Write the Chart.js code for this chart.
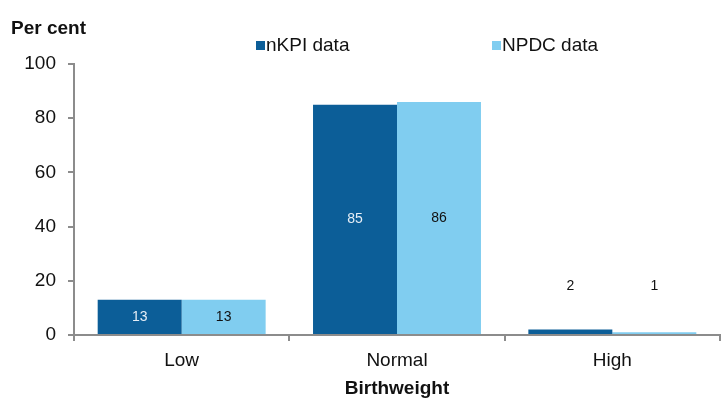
<!DOCTYPE html>
<html>
<head>
<meta charset="utf-8">
<script src="https://cdn.jsdelivr.net/npm/chart.js@4/dist/chart.umd.min.js"></script>
<style>
  html, body { margin: 0; padding: 0; background: #fff; }
  #wrap { width: 724px; height: 403px; position: relative; }
</style>
</head>
<body>
<div id="wrap"><canvas id="bw"></canvas></div>
<script>
// Birthweight distribution, per cent
const categories = ['Low', 'Normal', 'High'];
const nkpiValues = [13, 85, 2];
const npdcValues = [13, 86, 1];
const yTicks = [0, 20, 40, 60, 80, 100];

const COLORS = {
    nkpi: '#0C5E98',
    npdc: '#80CDF0',
    axis: '#8C8C8C',
    text: '#111',
};
const FONT = "'Liberation Sans', Arial, sans-serif";

// legend + "Per cent" label drawn on top of the canvas
const headerPlugin = {
    id: 'header',
    afterDraw(chart) {
        const ctx = chart.ctx;
        ctx.save();
        ctx.fillStyle = COLORS.text;
        ctx.font = 'bold 19px ' + FONT;
        ctx.textBaseline = 'alphabetic';
        ctx.textAlign = 'left';
        ctx.fillText('Per cent', 11, 34);

        const items = [
            { x: 256, ds: chart.data.datasets[0] },
            { x: 492, ds: chart.data.datasets[1] },
        ];
        ctx.font = '19px ' + FONT;
        ctx.textBaseline = 'middle';
        items.forEach(it => {
            ctx.fillStyle = it.ds.backgroundColor;
            ctx.fillRect(it.x, 41, 9, 9);
            ctx.fillStyle = COLORS.text;
            ctx.fillText(it.ds.label, it.x + 10, 46);
        });
        ctx.restore();
    }
};

// value labels: centred in tall bars, floated above the tiny ones
const valueLabels = {
    id: 'valueLabels',
    afterDatasetsDraw(chart) {
        const ctx = chart.ctx;
        const yScale = chart.scales.y;
        ctx.save();
        ctx.font = '14px ' + FONT;
        ctx.textAlign = 'center';
        ctx.textBaseline = 'middle';
        chart.data.datasets.forEach((ds, di) => {
            const meta = chart.getDatasetMeta(di);
            meta.data.forEach((bar, i) => {
                const v = ds.data[i];
                let y, color;
                if (v < 5) {
                    y = yScale.getPixelForValue(18);
                    color = '#111';
                } else {
                    y = (bar.y + bar.base) / 2;
                    color = di === 0 ? '#E6EEF6' : '#111';
                }
                ctx.fillStyle = color;
                ctx.fillText(String(v), bar.x, y);
            });
        });
        ctx.restore();
    }
};

const ctx = document.getElementById('bw').getContext('2d');
new Chart(ctx, {
    type: 'bar',
    data: {
        labels: categories,
        datasets: [
            {
                label: 'nKPI data',
                data: nkpiValues,
                backgroundColor: COLORS.nkpi,
                barPercentage: 1,
                categoryPercentage: 0.78,
                borderWidth: 0,
            },
            {
                label: 'NPDC data',
                data: npdcValues,
                backgroundColor: COLORS.npdc,
                barPercentage: 1,
                categoryPercentage: 0.78,
                borderWidth: 0,
            }
        ]
    },
    options: {
        responsive: true,
        maintainAspectRatio: false,
        animation: false,
        layout: { padding: { top: 64, right: 4, left: 0, bottom: 0 } },
        plugins: {
            legend: { display: false },
            tooltip: { enabled: false },
        },
        scales: {
            x: {
                grid: {
                    offset: true,
                    drawOnChartArea: false,
                    drawTicks: true,
                    tickLength: 6,
                    tickColor: COLORS.axis,
                    lineWidth: 2,
                },
                border: { display: true, color: COLORS.axis, width: 2 },
                ticks: {
                    color: COLORS.text,
                    font: { size: 19, family: FONT },
                    padding: 8,
                },
                title: {
                    display: true,
                    text: 'Birthweight',
                    color: COLORS.text,
                    font: { size: 19, weight: 'bold', family: FONT },
                    padding: { top: 0, bottom: 3 },
                },
                afterFit(scale) { scale.height = 68; },
            },
            y: {
                min: 0,
                max: 100,
                afterBuildTicks(scale) {
                    scale.ticks = yTicks.map(v => ({ value: v }));
                },
                grid: {
                    drawOnChartArea: false,
                    drawTicks: true,
                    tickLength: 6,
                    tickColor: COLORS.axis,
                    lineWidth: 2,
                },
                border: { display: true, color: COLORS.axis, width: 2 },
                ticks: {
                    color: COLORS.text,
                    font: { size: 19, family: FONT },
                    padding: 12,
                },
                afterFit(scale) { scale.width = 74; },
            }
        }
    },
    plugins: [headerPlugin, valueLabels]
});
</script>
</body>
</html>
